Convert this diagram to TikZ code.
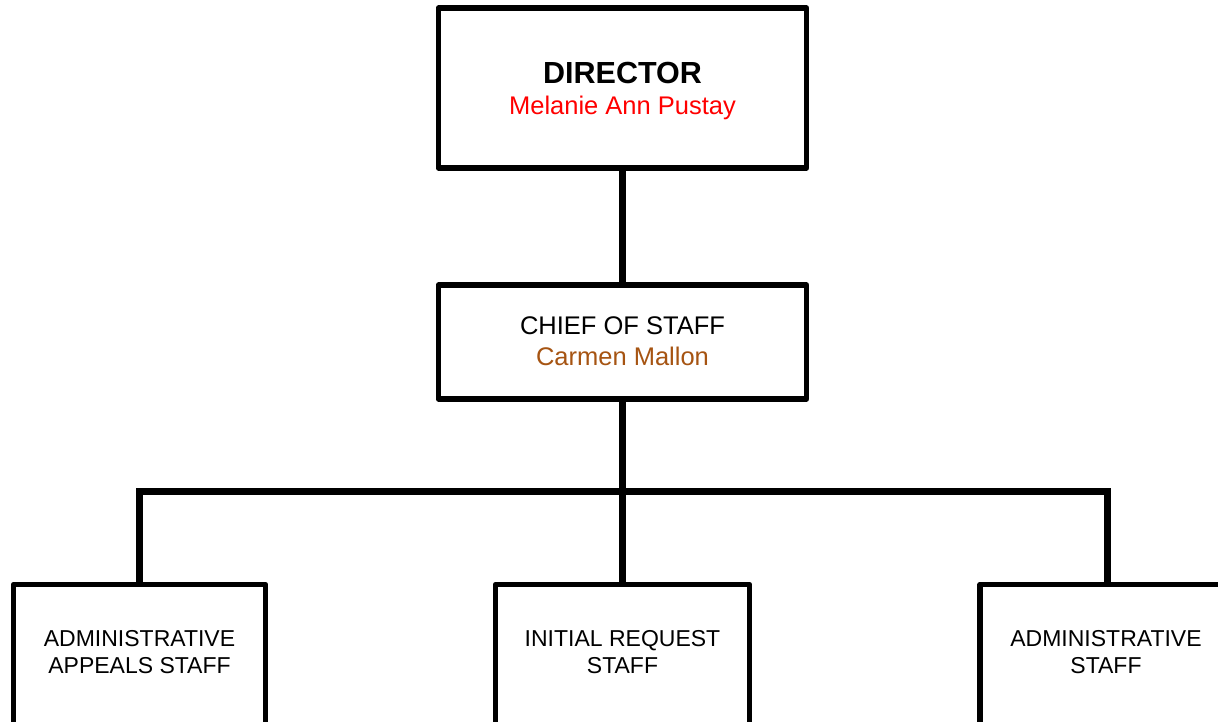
\documentclass[tikz,border=0pt]{standalone}
\usepackage{fontspec}
\setmainfont{Liberation Sans}
\usetikzlibrary{backgrounds}
\definecolor{namered}{RGB}{255,0,0}
\definecolor{namebrown}{RGB}{166,84,18}
\begin{document}
\begin{tikzpicture}[x=1pt,y=-1pt,
  box/.style={draw=black,line width=5.5pt,line join=round,fill=white,
    rectangle,inner sep=0pt,outer sep=0pt,anchor=north west},
  link/.style={draw=black,line width=7pt,line join=miter},
  txt/.style={inner sep=0pt,outer sep=0pt,anchor=base},
  big/.style={txt,font=\fontsize{30.5}{36}\selectfont\bfseries},
  mid/.style={txt,font=\fontsize{25.5}{31}\selectfont},
  small/.style={txt,font=\fontsize{23}{27}\selectfont}]
\useasboundingbox (0,0) rectangle (1218,721);
\clip (0,0) rectangle (1218,721);

% boxes
\node[box,minimum width=368pt,minimum height=160pt] (dir) at (438.5,8) {};
\node[box,minimum width=368pt,minimum height=114pt] (cos) at (438.5,285) {};
\node[box,minimum width=252pt,minimum height=170pt] (aas) at (13.5,584.5) {};
\node[box,minimum width=254pt,minimum height=170pt] (irs) at (495.5,584.5) {};
\node[box,minimum width=254pt,minimum height=170pt] (ads) at (980,584.5) {};

% connectors, kept behind the box borders
\coordinate (bus) at (622.5,491.5);
\begin{scope}[on background layer]
\draw[link] (dir.south) -- (cos.north);
\draw[link] (cos.south) -- (bus);
\draw[link] (aas.north) |- (bus) -| (ads.north);
\draw[link] (bus) -- (irs.north);
\end{scope}

% texts
\node[big] (dirT) at (622.5,83.3) {DIRECTOR};
\node[mid,text=namered] (dirN) at (622.5,114) {Melanie Ann Pustay};
\node[mid] (cosT) at (622.5,334) {CHIEF OF STAFF};
\node[mid,text=namebrown] (cosN) at (622.5,365) {Carmen Mallon};
\node[small] (aasA) at (139.5,646) {ADMINISTRATIVE};
\node[small] (aasB) at (139.5,673) {APPEALS STAFF};
\node[small] (irsA) at (622.5,646) {INITIAL REQUEST};
\node[small] (irsB) at (622.5,673) {STAFF};
\node[small] (adsA) at (1106,646) {ADMINISTRATIVE};
\node[small] (adsB) at (1106,673) {STAFF};
\end{tikzpicture}
\end{document}
